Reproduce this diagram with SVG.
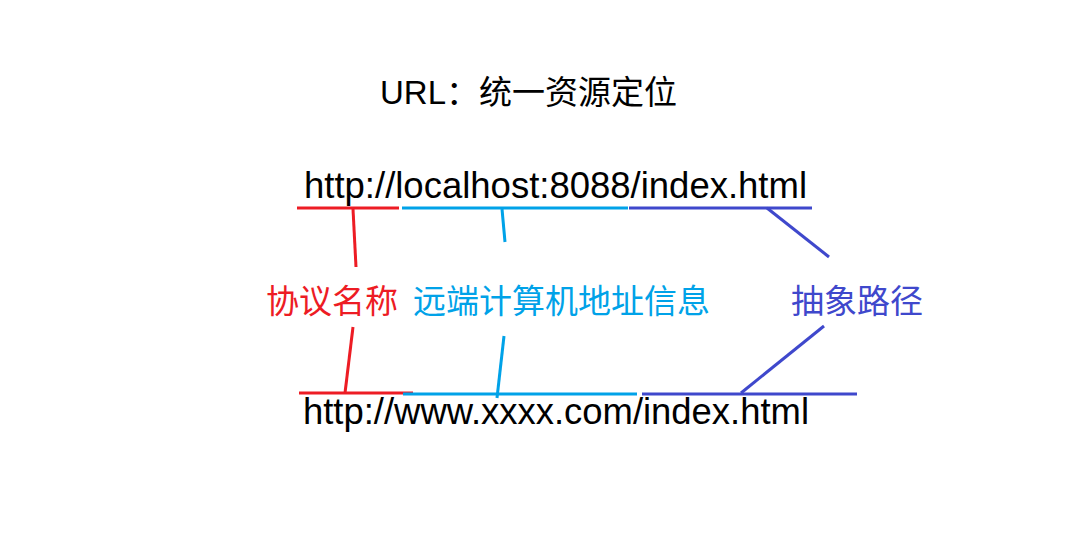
<svg xmlns="http://www.w3.org/2000/svg" width="1088" height="540" viewBox="0 0 1088 540">
<style>
.t{font-family:"Liberation Sans","Noto Sans CJK SC",sans-serif;fill:#000}
.u{font-family:"Liberation Sans",sans-serif;font-size:36px;fill:#000}
.c{font-family:"Noto Sans CJK SC","Liberation Sans",sans-serif;font-size:33px}
.r{stroke:#ED1C24;stroke-width:3;fill:none}
.b{stroke:#00A2E8;stroke-width:3;fill:none}
.p{stroke:#3F48CC;stroke-width:3;fill:none}
</style>
<rect width="1088" height="540" fill="#fff"/>
<g id="title"><text class="t" x="380" y="104" font-size="33">URL：统一资源定位</text></g>
<g id="url-local"><text class="u" x="304" y="198" textLength="503" lengthAdjust="spacingAndGlyphs">http://localhost:8088/index.html</text></g>
<g id="url-www"><text class="u" x="303" y="424" textLength="506" lengthAdjust="spacingAndGlyphs">http://www.xxxx.com/index.html</text></g>
<g id="label-protocol"><text class="c" x="266" y="313" fill="#ED1C24">协议名称</text></g>
<g id="label-host"><text class="c" x="413" y="313" fill="#00A2E8">远端计算机地址信息</text></g>
<g id="label-path"><text class="c" x="791" y="313" fill="#3F48CC">抽象路径</text></g>
<g id="connectors">
<line class="r" x1="297" y1="208" x2="399" y2="208"/>
<line class="b" x1="402" y1="208" x2="628" y2="208"/>
<line class="p" x1="629" y1="208" x2="812" y2="208"/>
<line class="r" x1="353" y1="209" x2="356" y2="267"/>
<line class="b" x1="502" y1="209" x2="505" y2="242"/>
<line class="p" x1="767" y1="208" x2="829" y2="257"/>
<line class="r" x1="299" y1="393" x2="413" y2="393"/>
<line class="b" x1="403" y1="394" x2="637" y2="394"/>
<line class="p" x1="642" y1="394" x2="857" y2="394"/>
<line class="r" x1="353" y1="327" x2="345" y2="393"/>
<line class="b" x1="504" y1="336" x2="497" y2="398"/>
<line class="p" x1="824" y1="326" x2="741" y2="393"/>
</g>
</svg>
